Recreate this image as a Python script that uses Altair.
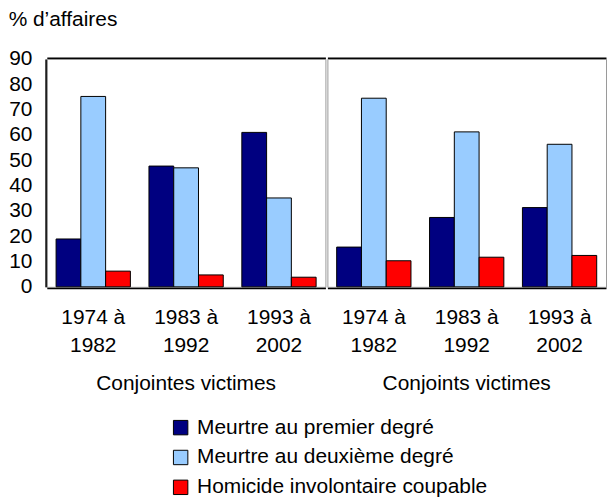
import altair as alt
import pandas as pd

periodes = ["1974 à 1982", "1983 à 1992", "1993 à 2002"]
groupes = ["Conjointes victimes", "Conjoints victimes"]
series = ["Meurtre au premier degré", "Meurtre au deuxième degré", "Homicide involontaire coupable"]

# values in order: Conjointes (3 periods), then Conjoints (3 periods)
premier_degre = [18.9, 47.7, 61.0, 15.7, 27.4, 31.3]
deuxieme_degre = [75.2, 47.0, 35.1, 74.5, 61.2, 56.3]
homicide = [6.2, 4.7, 3.8, 10.3, 11.7, 12.4]

couleurs = ["#000080", "#99CCFF", "#FF0000"]

rows = []
for s, vals in zip(series, [premier_degre, deuxieme_degre, homicide]):
    i = 0
    for g in groupes:
        for p in periodes:
            rows.append({"groupe": g, "periode": p, "serie": s, "valeur": vals[i]})
            i += 1
df = pd.DataFrame(rows)

FS = 21

bars = alt.Chart().mark_bar(stroke="black", strokeWidth=1).encode(
    x=alt.X(
        "periode:N",
        sort=periodes,
        scale=alt.Scale(paddingInner=0.2, paddingOuter=0.1),
        axis=alt.Axis(
            title=None,
            labelExpr="[slice(datum.label, 0, 6), slice(datum.label, 7)]",
            labelAngle=0,
            ticks=False,
            domainColor="black",
            domainWidth=2,
            labelFontSize=FS,
            labelLineHeight=28,
            labelPadding=19,
            labelColor="black",
        ),
    ),
    xOffset=alt.XOffset("serie:N", sort=series, scale=alt.Scale(paddingInner=0, paddingOuter=0)),
    y=alt.Y(
        "valeur:Q",
        scale=alt.Scale(domain=[0, 90]),
        axis=alt.Axis(
            title=None,
            values=list(range(0, 91, 10)),
            ticks=False,
            grid=False,
            labelPadding=14,
            domainColor="black",
            domainWidth=2,
            labelFontSize=FS,
            labelColor="black",
        ),
    ),
    color=alt.Color(
        "serie:N",
        sort=series,
        scale=alt.Scale(domain=series, range=couleurs),
        legend=alt.Legend(
            title=None,
            orient="none",
            legendX=124,
            legendY=360,
            direction="vertical",
            symbolType="square",
            symbolSize=210,
            symbolStrokeColor="black",
            symbolStrokeWidth=1,
            symbolOpacity=1,
            labelFontSize=FS,
            labelColor="black",
            labelOffset=6,
            labelLimit=0,
            rowPadding=8,
        ),
    ),
)

top = alt.Chart().mark_point(opacity=0).encode(
    x=alt.X(
        "periode:N",
        sort=periodes,
        axis=alt.Axis(orient="top", labels=False, ticks=False, title=None,
                      domainColor="black", domainWidth=2),
    ),
)

layer = alt.layer(bars, top, data=df).resolve_axis(x="independent").properties(width=280, height=229)

chart = layer.facet(
    column=alt.Column(
        "groupe:N",
        sort=groupes,
        header=alt.Header(title=None, labelOrient="bottom", labelFontSize=FS,
                          labelColor="black", labelPadding=18),
    ),
    spacing=0,
).properties(
    title=alt.Title("% d’affaires", anchor="start", fontSize=FS, fontWeight="normal",
                    color="black", offset=18),
    padding=0,
).configure(font="Liberation Sans").configure_view(stroke="#999999", strokeWidth=1)

chart.save("out.html", embed_options={"renderer": "svg", "actions": False})
